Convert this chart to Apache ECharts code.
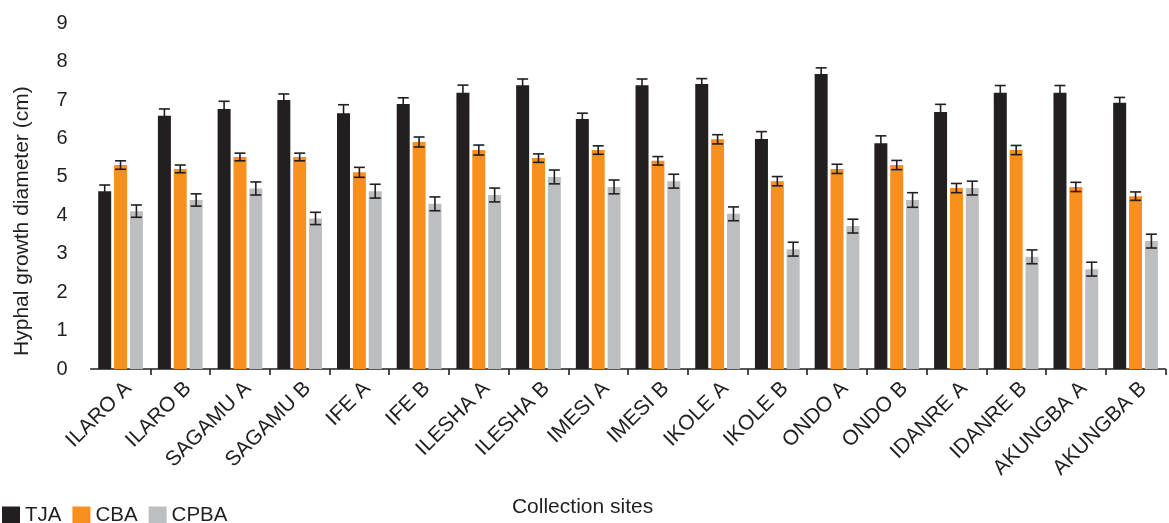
<!DOCTYPE html>
<html>
<head>
<meta charset="utf-8">
<script src="https://cdn.jsdelivr.net/npm/echarts@6/dist/echarts.min.js"></script>
<style>
html,body{margin:0;padding:0;background:#fff;}
#chart{width:1169px;height:523px;}
</style>
</head>
<body>
<div id="chart"></div>
<script>
var categories = ['ILARO A','ILARO B','SAGAMU A','SAGAMU B','IFE A','IFE B','ILESHA A','ILESHA B','IMESI A','IMESI B','IKOLE A','IKOLE B','ONDO A','ONDO B','IDANRE A','IDANRE B','AKUNGBA A','AKUNGBA B'];
var seriesNames = ['TJA','CBA','CPBA'];
var tja  = [4.63,6.59,6.77,7.00,6.66,6.90,7.19,7.39,6.51,7.39,7.42,5.99,7.68,5.88,6.69,7.19,7.19,6.93];
var cba  = [5.31,5.21,5.52,5.52,5.12,5.91,5.70,5.49,5.70,5.42,5.98,4.89,5.21,5.31,4.71,5.70,4.74,4.50];
var cpba = [4.11,4.40,4.70,3.92,4.63,4.30,4.53,5.00,4.74,4.89,4.04,3.12,3.72,4.40,4.71,2.92,2.60,3.33];
var tjaErr  = [0.16,0.18,0.20,0.16,0.22,0.16,0.20,0.16,0.15,0.16,0.14,0.19,0.16,0.19,0.20,0.19,0.19,0.14];
var cbaErr  = [0.11,0.10,0.10,0.10,0.13,0.13,0.13,0.11,0.11,0.11,0.12,0.12,0.12,0.12,0.12,0.12,0.12,0.11];
var cpbaErr = [0.16,0.16,0.17,0.16,0.18,0.18,0.18,0.18,0.18,0.18,0.18,0.18,0.18,0.19,0.18,0.18,0.18,0.18];
var yTicks = [0,1,2,3,4,5,6,7,8,9];

var colors = ['#231f20','#f7901e','#bcbec0'];
var FONT = '"Liberation Sans", Arial, Helvetica, sans-serif';
var TXT = '#231f20';
var BAR_W = 13;
var BAR_GAP = 0.22;
var PITCH = BAR_W * (1 + BAR_GAP);

var means = [tja, cba, cpba];
var errs = [tjaErr, cbaErr, cpbaErr];

function errSeries(k) {
  var data = categories.map(function (c, i) { return [i, means[k][i], errs[k][i]]; });
  return {
    type: 'custom',
    name: 'err-' + seriesNames[k],
    z: 10,
    silent: true,
    encode: { x: 0, y: 1 },
    data: data,
    renderItem: function (params, api) {
      var i = api.value(0), m = api.value(1), e = api.value(2);
      var dx = (k - 1) * PITCH;
      var hi = api.coord([i, m + e]);
      var lo = api.coord([i, m - e]);
      var x = hi[0] + dx;
      var hw = 5.5;
      var st = { stroke: '#231f20', lineWidth: 1.6 };
      return {
        type: 'group',
        children: [
          { type: 'line', shape: { x1: x, y1: hi[1], x2: x, y2: lo[1] }, style: st },
          { type: 'line', shape: { x1: x - hw, y1: hi[1], x2: x + hw, y2: hi[1] }, style: st },
          { type: 'line', shape: { x1: x - hw, y1: lo[1], x2: x + hw, y2: lo[1] }, style: st }
        ]
      };
    }
  };
}

var chart = echarts.init(document.getElementById('chart'), null, { renderer: 'canvas' });
var series = seriesNames.map(function (n, k) {
  return {
    type: 'bar',
    name: n,
    data: means[k],
    barWidth: BAR_W,
    barGap: (BAR_GAP * 100) + '%',
    itemStyle: { color: colors[k] }
  };
});
series = series.concat([errSeries(0), errSeries(1), errSeries(2)]);

chart.setOption({
  animation: false,
  backgroundColor: '#fff',
  textStyle: { fontFamily: FONT, color: TXT },
  grid: { left: 90.7, right: 3.6, top: 23.3, bottom: 154, containLabel: false },
  legend: {
    data: seriesNames,
    left: 2, top: 505,
    padding: 0,
    icon: 'rect',
    itemWidth: 18, itemHeight: 18, itemGap: 11,
    textStyle: { fontSize: 20.5, color: TXT, fontFamily: FONT },
    selectedMode: false
  },
  xAxis: {
    type: 'category',
    data: categories,
    name: 'Collection sites',
    nameLocation: 'middle',
    nameGap: 128,
    nameTextStyle: { fontSize: 21, color: TXT, fontFamily: FONT, padding: [0, 91, 0, 0] },
    axisLine: { lineStyle: { color: '#231f20', width: 1.6 } },
    axisTick: { show: true, length: 6, interval: function (idx) { return idx > 0; }, lineStyle: { color: '#231f20', width: 1.6 } },
    axisLabel: { rotate: 45, margin: 24, padding: [0, -11, 0, 0], fontSize: 21, color: TXT, fontFamily: FONT, interval: 0 }
  },
  yAxis: {
    type: 'value',
    min: yTicks[0], max: yTicks[yTicks.length - 1], interval: 1,
    name: 'Hyphal growth diameter (cm)',
    nameLocation: 'middle',
    nameGap: 58,
    nameTextStyle: { fontSize: 21, color: TXT, fontFamily: FONT, padding: [0, 50, 0, 0] },
    axisLine: { show: false },
    axisTick: { show: false },
    splitLine: { show: false },
    axisLabel: { margin: 23, fontSize: 20, color: TXT, fontFamily: FONT }
  },
  series: series
});
</script>
</body>
</html>
